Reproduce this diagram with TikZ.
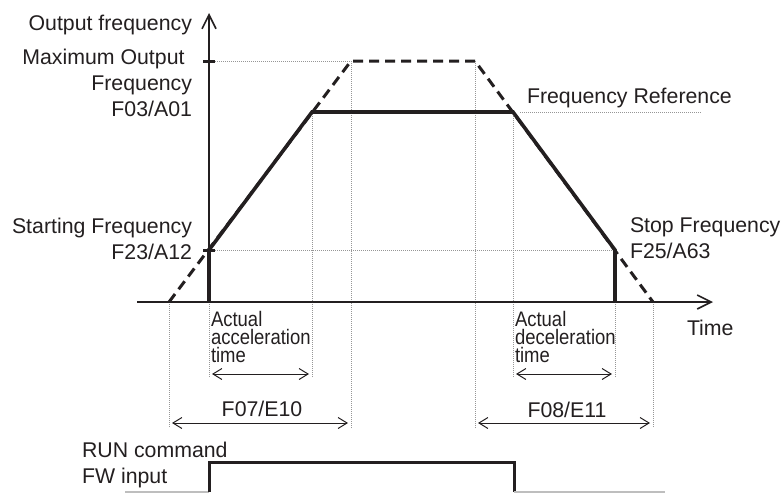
\documentclass[tikz,border=0pt]{standalone}
\usepackage{fontspec}
\setmainfont{Liberation Sans}
\newfontfamily\narrowsf[FakeStretch=0.88]{Liberation Sans}
\usetikzlibrary{arrows.meta,positioning,calc}
\definecolor{ink}{RGB}{35,31,32}
\definecolor{guidegray}{RGB}{150,150,150}
\definecolor{lowgray}{RGB}{190,190,190}

\begin{document}
\begin{tikzpicture}[
  x=1pt, y=-1pt,
  every node/.style={font=\fontsize{21.3}{26}\selectfont, text=ink, inner sep=0pt, outer sep=0pt},
  axis/.style={line width=1.8pt, draw=ink, -{Straight Barb[length=14pt, width=14pt, line width=1.6pt]}},
  ramp/.style={line width=3.6pt, draw=ink, line join=miter},
  setramp/.style={line width=3pt, draw=ink, dash pattern=on 10pt off 6pt},
  guide/.style={line width=1pt, draw=guidegray, dash pattern=on 1pt off 1pt},
  span/.style={line width=1pt, draw=ink,
               {Straight Barb[length=9pt, width=11pt]}-{Straight Barb[length=9pt, width=11pt]}},
  smalltxt/.style={font=\narrowsf\fontsize{21}{18}\selectfont, align=left},
  tick/.style={line width=3pt, draw=ink},
  signal/.style={line width=3pt, draw=ink},
  lowlevel/.style={line width=1.5pt, draw=lowgray}]
  \useasboundingbox (0,0) rectangle (782,493);

  % key points of the time chart
  \coordinate (O)     at (209,302);
  \coordinate (ytop)  at (209,13);
  \coordinate (xleft) at (137,302);
  \coordinate (xend)  at (713,302);
  \coordinate (d0) at (169,302);
  \coordinate (d1) at (351,61);
  \coordinate (d2) at (475,61);
  \coordinate (d3) at (653,302);
  \coordinate (s1) at (209,250);
  \coordinate (s2) at (312,112);
  \coordinate (s3) at (513,112);
  \coordinate (s4) at (615,250);
  \coordinate (s5) at (615,302);

  % guide lines
  \draw[guide] (215,61) -- (d1);
  \draw[guide] (s1) -- (s4);
  \draw[guide] (520,112) -- (702,112);
  \draw[guide] (d0) -- (169,428);
  \draw[guide] (O) -- (209,377);
  \draw[guide] (s2) -- (312,377);
  \draw[guide] (d1) -- (351,428);
  \draw[guide] (d2) -- (475,428);
  \draw[guide] (s3) -- (513,377);
  \draw[guide] (s5) -- (615,377);
  \draw[guide] (d3) -- (653,428);

  % axes
  \draw[axis] (xleft) -- (xend);
  \draw[axis] (O) -- (ytop);
  \draw[tick] (203,61) -- (215,61);
  \draw[tick] (203,250) -- (215,250);

  % set and actual frequency
  \draw[setramp] (d0) -- (d1) -- (d2) -- (d3);
  \draw[ramp] (O) -- (s1) -- (s2) -- (s3) -- (s4) -- (s5);

  % time spans
  \draw[span] (212,374) -- (309,374);
  \draw[span] (172,423) -- (348,423);
  \draw[span] (516,374) -- (612,374);
  \draw[span] (478,423) -- (650,423);

  % RUN command
  \draw[lowlevel] (125,492) -- (209,492);
  \draw[signal] (209,492) -- (209,462) -- (514,462) -- (514,492);
  \draw[lowlevel] (514,492) -- (665,492);

  % labels
  \node[anchor=base east] (outlbl) at (192,30.5) {Output frequency};
  \node[anchor=north east, align=right] (maxlbl) at (192,48.7)
      {Maximum Output\hspace*{0.35em}\\Frequency\\F03/A01};
  \node[anchor=north east, align=right] (startlbl) at (192,217.7)
      {Starting Frequency\\F23/A12};
  \node[anchor=base west] (reflbl) at (527,103) {Frequency Reference};
  \node[anchor=north west, align=left] (stoplbl) at (630,217.7)
      {Stop Frequency\\F25/A63};
  \node[anchor=base west] (timelbl) at (687,335) {Time};
  \node[smalltxt, anchor=north west] (acclbl) at (211,311.5)
      {Actual\\acceleration\\time};
  \node[smalltxt, anchor=north west] (declbl) at (515,311.5)
      {Actual\\deceleration\\time};
  \node[anchor=base] (acclbl2) at (262,416) {F07/E10};
  \node[anchor=base] (declbl2) at (567,417) {F08/E11};
  \node[anchor=north west, align=left] (runlbl) at (82,441.7)
      {RUN command\\FW input};
\end{tikzpicture}
\end{document}
